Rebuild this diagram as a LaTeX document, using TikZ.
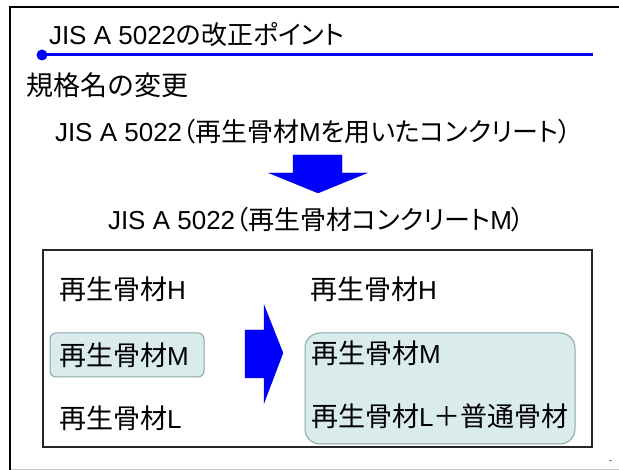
\documentclass[tikz,border=0pt]{standalone}
\usepackage{fontspec}
\setmainfont{Liberation Sans}
\newfontfamily\jp{Noto Sans CJK JP}[Scale=1.04]
\newfontfamily\jpp{Noto Sans CJK JP}[RawFeature=+palt]
\definecolor{pureblue}{RGB}{0,0,255}
\definecolor{boxfill}{RGB}{218,235,236}
\definecolor{boxline}{RGB}{138,165,168}
\definecolor{framegray}{RGB}{200,200,200}
\begin{document}
\begin{tikzpicture}[x=1pt,y=-1pt,
  txt/.style={inner sep=0pt, outer sep=0pt, anchor=west, font=\fontsize{26}{30}\selectfont},
  softbox/.style={draw=boxline, fill=boxfill, line width=1pt},
  blockarrow/.style={fill=pureblue, draw=pureblue!80!black, line width=0.4pt}]
\useasboundingbox (0,0) rectangle (619,470);
% outer frame
\draw[line width=2.2pt, black] (619,7) -- (10,7) -- (10,470);
\draw[line width=1pt, framegray] (11,469) -- (619,469);
\draw[line width=0.6pt, gray] (609,460) -- (612,460);
% title and blue rule
\node[txt] (title) at (49,35) {JIS A 5022{\jpp の改正ポイント}};
\coordinate (ruleL) at (42,55);
\coordinate (ruleR) at (593,55);
\draw[pureblue, line width=3pt] (ruleL) -- (ruleR);
\fill[pureblue] (ruleL) circle (5.5);
% subtitle
\node[txt] (sub) at (26,85) {\jp 規格名の変更};
\node[txt] (oldname) at (55,132) {JIS A 5022{\jpp （再生骨材}M{\jpp を用いたコンクリート）}};
% down arrow
\fill[blockarrow] (293,155) -- (342,155) -- (342,173) -- (367,173) -- (318,193) -- (269,173) -- (293,173) -- cycle;
\node[txt] (newname) at (108,220) {JIS A 5022{\jpp （再生骨材コンクリート}M{\jpp ）}};
% inner box
\draw[line width=1.5pt, black!85] (43,250) rectangle (592,447);
% left column
\draw[softbox, rounded corners=6pt] (50,333) rectangle (204,377);
\node[txt] (lH) at (59,289) {{\jp 再生骨材}H};
\node[txt] (lM) at (59,355) {{\jp 再生骨材}M};
\node[txt] (lL) at (59,418) {{\jp 再生骨材}L};
% right arrow
\fill[blockarrow] (245,330) -- (264,330) -- (264,305) -- (283,353) -- (264,403) -- (264,378) -- (245,378) -- cycle;
% right column
\draw[softbox, rounded corners=15pt] (305,333) rectangle (575,444);
\node[txt] (rH) at (310,289) {{\jp 再生骨材}H};
\node[txt] (rM) at (311,353) {{\jp 再生骨材}M};
\node[txt] (rL) at (311,416) {{\jp 再生骨材}L{\jp ＋普通骨材}};
\end{tikzpicture}
\end{document}
